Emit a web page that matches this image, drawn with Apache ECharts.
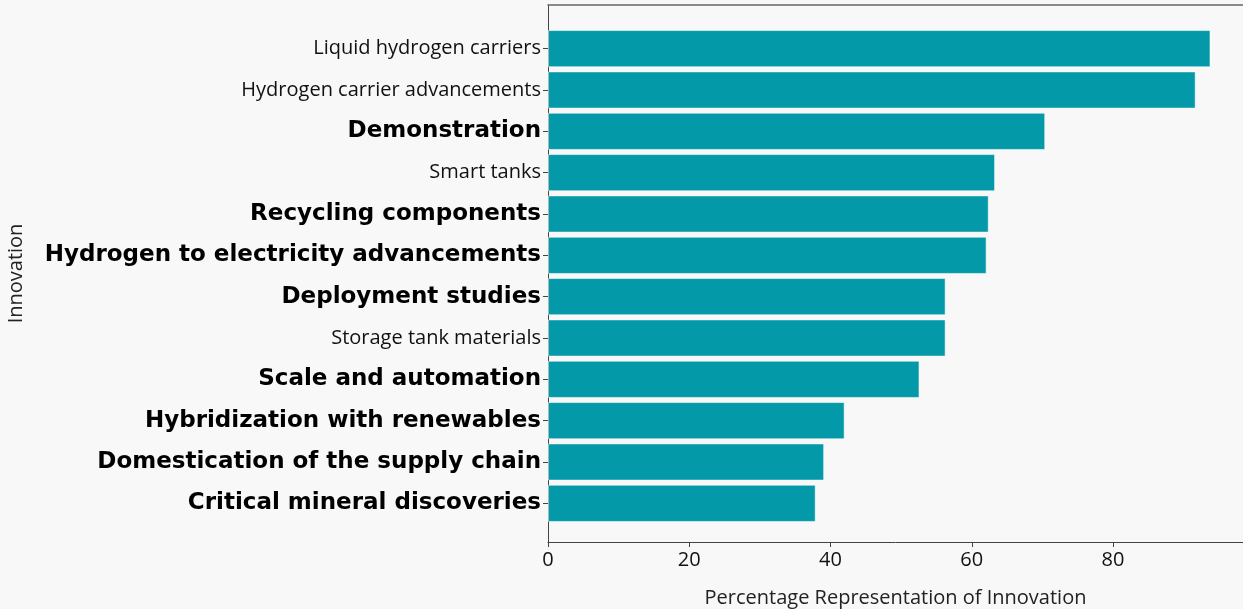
<!DOCTYPE html>
<html>
<head>
<meta charset="utf-8">
<script src="https://cdn.jsdelivr.net/npm/echarts@6/dist/echarts.min.js"></script>
<style>
  html, body { margin: 0; padding: 0; background: #f8f8f8; }
  #chart { width: 1243px; height: 609px; }
</style>
</head>
<body>
<div id="chart"></div>
<script>
// top to bottom, as in the picture
const categories = [
  'Liquid hydrogen carriers',
  'Hydrogen carrier advancements',
  'Demonstration',
  'Smart tanks',
  'Recycling components',
  'Hydrogen to electricity advancements',
  'Deployment studies',
  'Storage tank materials',
  'Scale and automation',
  'Hybridization with renewables',
  'Domestication of the supply chain',
  'Critical mineral discoveries'
]
const values = [93.8, 91.7, 70.4, 63.3, 62.4, 62.1, 56.3, 56.3, 52.6, 42.0, 39.1, 37.9]
const boldLabels = [
  'Demonstration',
  'Recycling components',
  'Hydrogen to electricity advancements',
  'Deployment studies',
  'Scale and automation',
  'Hybridization with renewables',
  'Domestication of the supply chain',
  'Critical mineral discoveries'
]
const xTicks = [0, 20, 40, 60, 80]

const xMax = 98.4
const labelFont = '"Open Sans", "Noto Sans", sans-serif'

const chart = echarts.init(document.getElementById('chart'))
chart.setOption({
  backgroundColor: '#f8f8f8',
  animation: false,
  grid: [
    // frame: spines, x ticks, axis names
    { left: 548, right: 0, top: 5, bottom: 67, outerBoundsMode: 'none' },
    // bars
    { left: 548, right: 0, top: 28, bottom: 85, outerBoundsMode: 'none' }
  ],
  xAxis: [
    {
      gridIndex: 0,
      type: 'value',
      min: 0,
      max: xMax,
      interval: 20,
      position: 'bottom',
      name: 'Percentage Representation of Innovation',
      nameLocation: 'middle',
      nameGap: 46,
      nameTextStyle: { fontFamily: labelFont, fontSize: 20, color: '#222' },
      axisLine: { show: true, lineStyle: { color: '#444', width: 1 } },
      axisTick: { show: true, length: 5, lineStyle: { color: '#444' } },
      axisLabel: {
        fontFamily: labelFont, fontSize: 20, color: '#111', margin: 8,
        showMaxLabel: false,
        formatter: v => (xTicks.indexOf(v) >= 0 ? String(v) : '')
      },
      splitLine: { show: false }
    },
    {
      gridIndex: 0,
      type: 'value',
      min: 0,
      max: xMax,
      position: 'top',
      axisLine: { show: true, lineStyle: { color: '#666', width: 1.5 } },
      axisTick: { show: false },
      axisLabel: { show: false },
      splitLine: { show: false }
    },
    {
      gridIndex: 1,
      type: 'value',
      min: 0,
      max: xMax,
      show: false
    }
  ],
  yAxis: [
    {
      gridIndex: 0,
      type: 'value',
      name: 'Innovation',
      nameLocation: 'middle',
      nameGap: 522,
      nameRotate: 90,
      nameTextStyle: { fontFamily: labelFont, fontSize: 20, color: '#222' },
      axisLine: { show: true, lineStyle: { color: '#444', width: 1 } },
      axisTick: { show: false },
      axisLabel: { show: false },
      splitLine: { show: false }
    },
    {
      gridIndex: 1,
      type: 'category',
      data: categories,
      inverse: true,
      axisLine: { show: false },
      axisTick: { show: true, alignWithLabel: true, length: 5, lineStyle: { color: '#444' } },
      axisLabel: {
        margin: 7,
        formatter: v => (boldLabels.indexOf(v) >= 0 ? '{b|' + v + '}' : '{n|' + v + '}'),
        rich: {
          b: { fontFamily: '"DejaVu Sans", sans-serif', fontWeight: 'bold', fontSize: 23, color: '#000' },
          n: { fontFamily: labelFont, fontSize: 20, color: '#111' }
        }
      }
    }
  ],
  series: [
    {
      type: 'bar',
      xAxisIndex: 2,
      yAxisIndex: 1,
      data: values,
      barCategoryGap: '10%',
      itemStyle: {
        color: '#0399a8',
        borderColor: 'rgba(255,255,255,0.55)',
        borderWidth: 1
      }
    }
  ]
})
</script>
</body>
</html>
